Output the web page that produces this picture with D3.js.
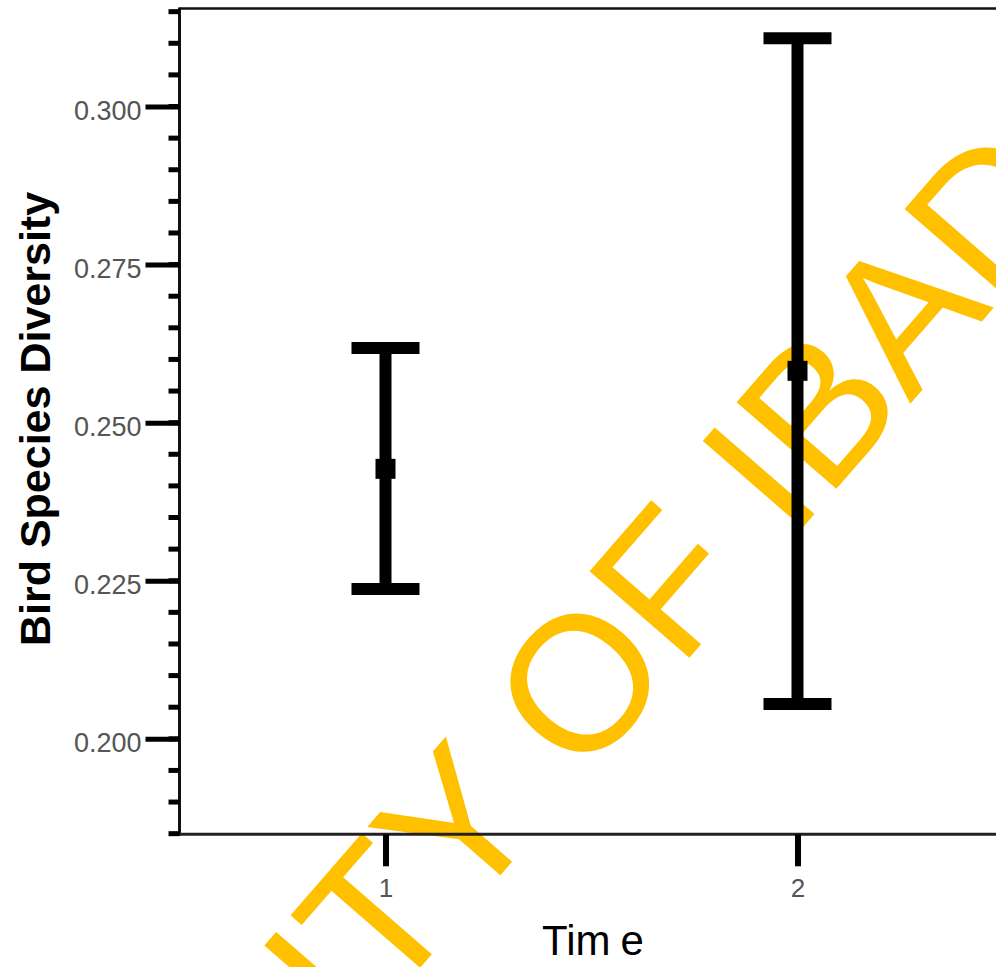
<!DOCTYPE html>
<html>
<head>
<meta charset="utf-8">
<script src="https://cdn.jsdelivr.net/npm/d3@7"></script>
<style>
  html, body { margin: 0; padding: 0; background: #fff; }
  svg { display: block; }
</style>
</head>
<body>
<svg id="chart" width="996" height="967"></svg>
<script>
// ---- data ----
const categories = [1, 2];
const means = [0.2427, 0.2582];
const upperCI = [0.2618, 0.3108];
const lowerCI = [0.2237, 0.2055];
const yTickValues = [0.200, 0.225, 0.250, 0.275, 0.300];
const yTickLabels = ["0.200", "0.225", "0.250", "0.275", "0.300"];
const xTickLabels = ["1", "2"];
const yDomain = [0.1849, 0.3155];
const xDomain = [0.5, 3.5];
const yTitle = "Bird Species Diversity";
const xTitle = "Time";
const watermark = "UNIVERSITY OF IBADAN LIBRARY";

// ---- layout ----
const svg = d3.select("#chart");
const y = d3.scaleLinear().domain(yDomain).range([834.3, 8.5]);
const x = d3.scaleLinear().domain(xDomain).range([179.5, 1415.5]);

// ---- watermark (behind) ----
const wm = svg.append("g").attr("transform", "translate(791,541) rotate(-49)");
const wmText = wm.append("text")
  .attr("font-family", "Liberation Sans, Arial, sans-serif")
  .attr("font-size", 192)
  .attr("fill", "#FFC000")
  .style("white-space", "pre")
  .text(watermark);
const offset = wmText.node().getSubStringLength(0, watermark.indexOf("IBADAN"));
wmText.attr("x", -offset);

// ---- frame ----
const frame = svg.append("g");
frame.append("line").attr("x1", x(0.5)).attr("x2", x(0.5)).attr("y1", y(yDomain[1]) - 1).attr("y2", y(yDomain[0]) + 1.5)
  .attr("stroke", "#111").attr("stroke-width", 3);
frame.append("line").attr("x1", x(0.5)).attr("x2", x(3.5)).attr("y1", y(yDomain[1])).attr("y2", y(yDomain[1]))
  .attr("stroke", "#111").attr("stroke-width", 2.5);
frame.append("line").attr("x1", x(0.5)).attr("x2", x(3.5)).attr("y1", y(yDomain[0])).attr("y2", y(yDomain[0]))
  .attr("stroke", "#222").attr("stroke-width", 3);

// ---- y minor ticks ----
const minorTicks = d3.range(37, 64).map(i => i * 0.005);
svg.append("g").selectAll("line").data(minorTicks).join("line")
  .attr("x1", x(0.5) - 11).attr("x2", x(0.5))
  .attr("y1", d => y(d)).attr("y2", d => y(d))
  .attr("stroke", "#000").attr("stroke-width", 5);

// ---- y axis (major) ----
const yAxis = d3.axisLeft(y).tickValues(yTickValues)
  .tickFormat((d, i) => yTickLabels[i]).tickSize(34).tickPadding(4);
const gy = svg.append("g").attr("transform", `translate(${x(0.5)},0)`).call(yAxis);
gy.select(".domain").remove();
gy.selectAll(".tick line").attr("stroke", "#000").attr("stroke-width", 5);
gy.selectAll(".tick text")
  .attr("font-family", "Liberation Sans, Arial, sans-serif")
  .attr("font-size", 27).attr("fill", "#555").attr("dy", "0.47em");

// ---- x axis ----
const xAxis = d3.axisBottom(x).tickValues(categories)
  .tickFormat((d, i) => xTickLabels[i]).tickSize(32).tickPadding(12);
const gx = svg.append("g").attr("transform", `translate(0,${y(yDomain[0])})`).call(xAxis);
gx.select(".domain").remove();
gx.selectAll(".tick line").attr("stroke", "#000").attr("stroke-width", 6);
gx.selectAll(".tick text")
  .attr("font-family", "Liberation Sans, Arial, sans-serif")
  .attr("font-size", 26).attr("fill", "#555");

// ---- error bars ----
const eb = svg.append("g");
const capW = 68;
categories.forEach((c, i) => {
  eb.append("line").attr("x1", x(c)).attr("x2", x(c))
    .attr("y1", y(upperCI[i])).attr("y2", y(lowerCI[i]))
    .attr("stroke", "#000").attr("stroke-width", 12);
  [upperCI[i], lowerCI[i]].forEach(v => {
    eb.append("line").attr("x1", x(c) - capW / 2).attr("x2", x(c) + capW / 2)
      .attr("y1", y(v)).attr("y2", y(v))
      .attr("stroke", "#000").attr("stroke-width", 12);
  });
  eb.append("rect").attr("x", x(c) - 10).attr("y", y(means[i]) - 10)
    .attr("width", 20).attr("height", 20).attr("fill", "#000");
});

// ---- titles ----
svg.append("text")
  .attr("transform", `translate(50,419) rotate(-90)`)
  .attr("text-anchor", "middle")
  .attr("font-family", "Liberation Sans, Arial, sans-serif")
  .attr("font-weight", "bold").attr("font-size", 43).attr("fill", "#000")
  .text(yTitle);

const xt = svg.append("text")
  .attr("x", 593).attr("y", 955)
  .attr("text-anchor", "middle")
  .attr("font-family", "Liberation Sans, Arial, sans-serif")
  .attr("font-size", 42).attr("fill", "#000");
xt.append("tspan").text(xTitle.slice(0, 3));
xt.append("tspan").attr("dx", 10).text(xTitle.slice(3));
</script>
</body>
</html>
